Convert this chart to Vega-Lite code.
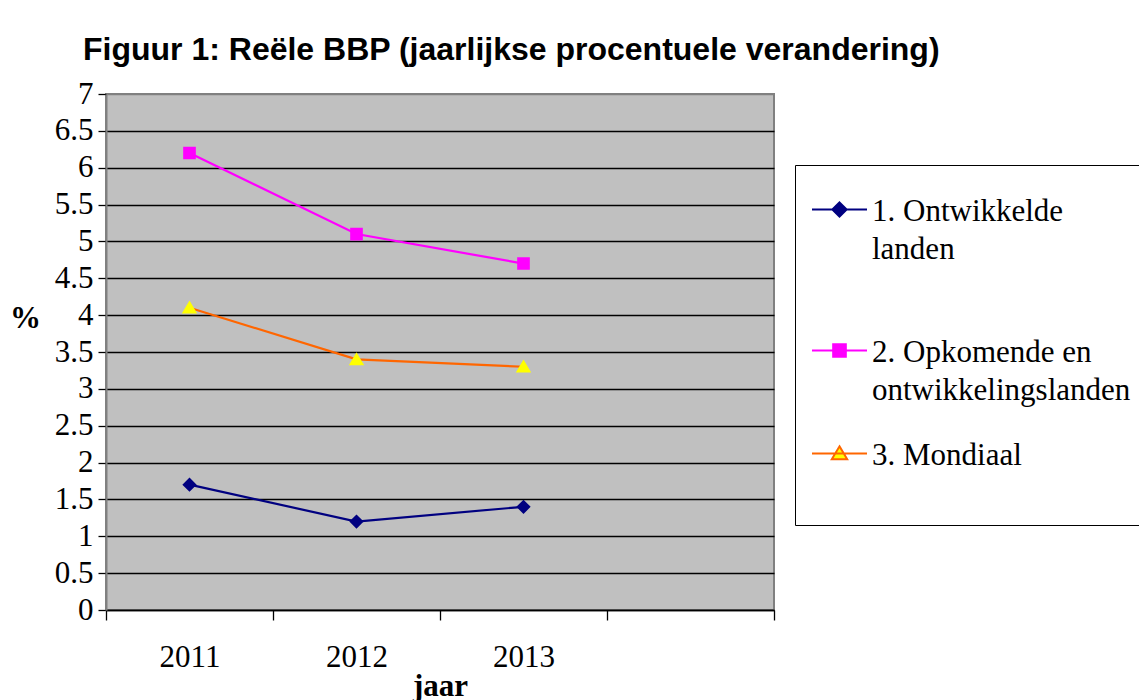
{
  "$schema": "https://vega.github.io/schema/vega-lite/v6.json",
  "width": 668,
  "height": 516,
  "autosize": {"type": "none"},
  "padding": {"left": 106, "top": 94, "right": 365, "bottom": 90},
  "background": "white",
  "title": {
    "text": "Figuur 1: Reële BBP (jaarlijkse procentuele verandering)",
    "anchor": "start",
    "frame": "group",
    "font": "Liberation Sans",
    "fontSize": 32,
    "fontWeight": "bold",
    "color": "black",
    "dx": -23,
    "offset": 11
  },
  "data": {
    "values": [
      {"jaar": "2011", "reeks": "1. Ontwikkelde landen", "waarde": 1.7},
      {"jaar": "2012", "reeks": "1. Ontwikkelde landen", "waarde": 1.2},
      {"jaar": "2013", "reeks": "1. Ontwikkelde landen", "waarde": 1.4},
      {"jaar": "2011", "reeks": "2. Opkomende en ontwikkelingslanden", "waarde": 6.2},
      {"jaar": "2012", "reeks": "2. Opkomende en ontwikkelingslanden", "waarde": 5.1},
      {"jaar": "2013", "reeks": "2. Opkomende en ontwikkelingslanden", "waarde": 4.7},
      {"jaar": "2011", "reeks": "3. Mondiaal", "waarde": 4.1},
      {"jaar": "2012", "reeks": "3. Mondiaal", "waarde": 3.4},
      {"jaar": "2013", "reeks": "3. Mondiaal", "waarde": 3.3}
    ]
  },
  "encoding": {
    "x": {
      "field": "jaar",
      "type": "ordinal",
      "scale": {"type": "band", "domain": ["2011", "2012", "2013", " "], "paddingInner": 0, "paddingOuter": 0},
      "axis": {
        "title": "jaar",
        "titleFont": "Liberation Serif",
        "titleFontSize": 31,
        "titleFontWeight": "bold",
        "titleColor": "black",
        "titlePadding": -1,
        "labelFont": "Liberation Serif",
        "labelFontSize": 31,
        "labelColor": "black",
        "labelAngle": 0,
        "labelPadding": 22,
        "tickBand": "extent",
        "tickSize": 10,
        "tickColor": "black",
        "tickWidth": 1.3,
        "domainColor": "black",
        "domainWidth": 1.5,
        "grid": false
      }
    },
    "y": {
      "field": "waarde",
      "type": "quantitative",
      "scale": {"domain": [0, 7], "nice": false, "zero": true},
      "axis": {
        "values": [0, 0.5, 1, 1.5, 2, 2.5, 3, 3.5, 4, 4.5, 5, 5.5, 6, 6.5, 7],
        "format": "~g",
        "title": "%",
        "titleFont": "Liberation Serif",
        "titleFontSize": 31,
        "titleFontWeight": "bold",
        "titleColor": "black",
        "titleAngle": 0,
        "titleAlign": "center",
        "titleBaseline": "middle",
        "titleX": -81,
        "titleY": 224,
        "labelFont": "Liberation Serif",
        "labelFontSize": 31,
        "labelColor": "black",
        "labelPadding": 5,
        "tickSize": 8,
        "tickColor": "black",
        "tickWidth": 1.3,
        "domainColor": "#808080",
        "domainWidth": 2,
        "grid": true,
        "gridColor": {"condition": {"test": "datum.value === 7", "value": "#808080"}, "value": "black"},
        "gridWidth": 1.5,
        "gridOpacity": 1
      }
    }
  },
  "layer": [
    {
      "mark": {"type": "line", "strokeWidth": 2.2},
      "encoding": {
        "stroke": {
          "field": "reeks",
          "type": "nominal",
          "scale": {
            "domain": ["1. Ontwikkelde landen", "2. Opkomende en ontwikkelingslanden", "3. Mondiaal"],
            "range": ["#000080", "#FF00FF", "#FF6600"]
          },
          "legend": {
            "title": null,
            "orient": "none",
            "legendX": 689,
            "legendY": 71,
            "labelExpr": "datum.value === '1. Ontwikkelde landen' ? ['1. Ontwikkelde', 'landen', ''] : datum.value === '3. Mondiaal' ? ['3. Mondiaal', ''] : ['2. Opkomende  en', 'ontwikkelingslanden']",
            "encode": {
              "symbols": {
                "update": {
                  "strokeWidth": {"value": 2},
                  "opacity": {"value": 1}
                }
              },
              "labels": {
                "update": {
                  "dy": {"value": -13},
                  "lineHeight": {"value": 38}
                }
              }
            }
          }
        }
      }
    },
    {
      "mark": {"type": "point", "filled": true, "opacity": 1, "size": 3025, "strokeWidth": 0},
      "encoding": {
        "fill": {
          "field": "reeks",
          "type": "nominal",
          "scale": {
            "domain": ["1. Ontwikkelde landen", "2. Opkomende en ontwikkelingslanden", "3. Mondiaal"],
            "range": ["#000080", "#FF00FF", "#FFFF00"]
          },
          "legend": {
            "title": null,
            "orient": "none",
            "legendX": 689,
            "legendY": 71,
            "labelExpr": "datum.value === '1. Ontwikkelde landen' ? ['1. Ontwikkelde', 'landen', ''] : datum.value === '3. Mondiaal' ? ['3. Mondiaal', ''] : ['2. Opkomende  en', 'ontwikkelingslanden']"
          }
        },
        "shape": {
          "field": "reeks",
          "type": "nominal",
          "scale": {
            "domain": ["1. Ontwikkelde landen", "2. Opkomende en ontwikkelingslanden", "3. Mondiaal"],
            "range": [
              "M-1,0L1,0M0,-0.26L0.26,0L0,0.26L-0.26,0Z",
              "M-1,0L1,0M-0.23,-0.23L0.23,-0.23L0.23,0.23L-0.23,0.23Z",
              "M-1,0L1,0M0,-0.26L0.28,0.21L-0.28,0.21Z"
            ]
          },
          "legend": {
            "title": null,
            "orient": "none",
            "legendX": 689,
            "legendY": 71,
            "labelExpr": "datum.value === '1. Ontwikkelde landen' ? ['1. Ontwikkelde', 'landen', ''] : datum.value === '3. Mondiaal' ? ['3. Mondiaal', ''] : ['2. Opkomende  en', 'ontwikkelingslanden']"
          }
        }
      }
    }
  ],
  "config": {
    "view": {"stroke": "#808080", "strokeWidth": 2, "fill": "#C0C0C0"},
    "legend": {
      "padding": 16,
      "strokeColor": "black",
      "fillColor": "white",
      "symbolSize": 3025,
      "symbolStrokeWidth": 2,
      "labelFont": "Liberation Serif",
      "labelFontSize": 31,
      "labelColor": "black",
      "labelLimit": 0,
      "labelOffset": 4,
      "labelBaseline": "top",
      "rowPadding": 19
    }
  }
}
